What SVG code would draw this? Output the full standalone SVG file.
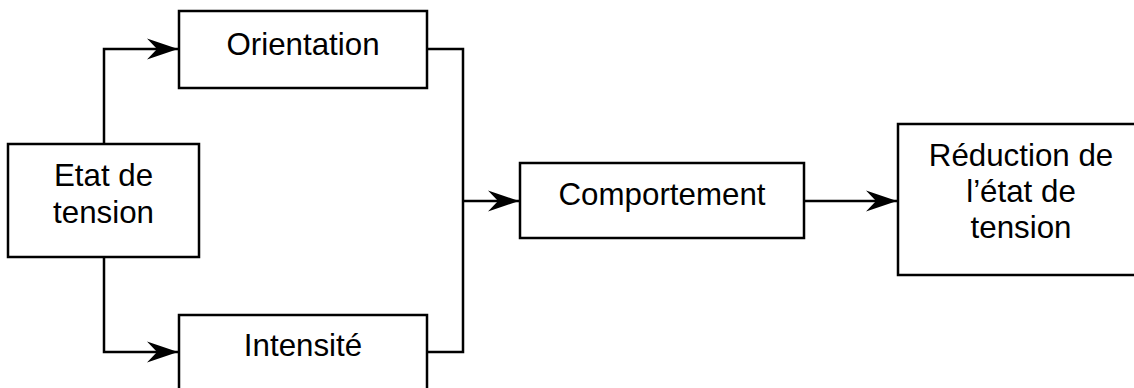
<svg xmlns="http://www.w3.org/2000/svg" width="1134" height="388" viewBox="0 0 1134 388">
<defs>
<style>
.box{fill:#fff;stroke:#000;stroke-width:2.5}
.lbl{font-family:"Liberation Sans",Arial,sans-serif;font-size:31.3px;fill:#000;text-anchor:middle}
.con{fill:none;stroke:#000;stroke-width:2.5}
</style>
<marker id="arr" markerUnits="userSpaceOnUse" markerWidth="34" markerHeight="24" refX="31" refY="11" orient="auto" viewBox="0 0 34 24">
<path d="M31,11 L0,0.5 L10,11 L0,21.5 Z" fill="#000"/>
</marker>
</defs>
<rect width="1134" height="388" fill="#fff"/>
<g id="connectors">
<path class="con" d="M104,144 V49 H178" marker-end="url(#arr)"/>
<path class="con" d="M104,257 V352 H178" marker-end="url(#arr)"/>
<path class="con" d="M427,49 H463 V352 H427"/>
<path class="con" d="M463,201 H519" marker-end="url(#arr)"/>
<path class="con" d="M804,201 H897" marker-end="url(#arr)"/>
</g>
<g id="etat">
<rect class="box" x="8" y="144" width="191" height="113"/>
<text class="lbl" x="103.5" y="186">Etat de</text>
<text class="lbl" x="103.5" y="223">tension</text>
</g>
<g id="orientation">
<rect class="box" x="179" y="11" width="248" height="77"/>
<text class="lbl" x="303" y="55">Orientation</text>
</g>
<g id="intensite">
<rect class="box" x="179" y="315" width="248" height="80"/>
<text class="lbl" x="303" y="356">Intensité</text>
</g>
<g id="comportement">
<rect class="box" x="520" y="163" width="284" height="75"/>
<text class="lbl" x="662" y="205">Comportement</text>
</g>
<g id="reduction">
<rect class="box" x="898" y="124" width="250" height="151"/>
<text class="lbl" x="1021" y="166">Réduction de</text>
<text class="lbl" x="1021" y="202">l’état de</text>
<text class="lbl" x="1021" y="238">tension</text>
</g>
</svg>
